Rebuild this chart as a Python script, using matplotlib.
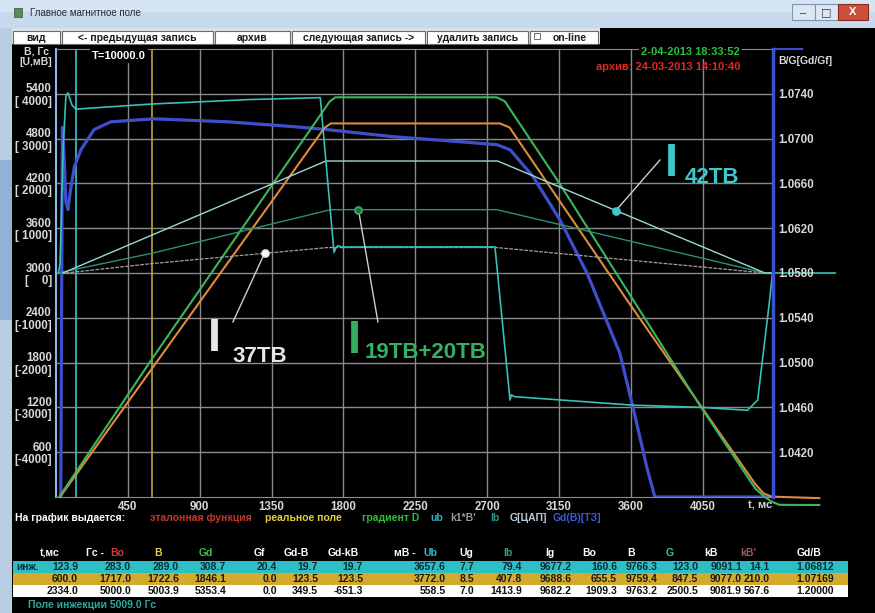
import numpy as np
import matplotlib.pyplot as plt
from matplotlib.patches import Rectangle

plt.rcParams['font.family'] = ['Liberation Sans', 'DejaVu Sans']

W, H = 875, 613

# ---- curves (t in ms) ----
# real field B, Gs (orange)
b_t   = [25, 600, 1680, 1720, 2780, 2840, 3575, 4044, 4380, 4430, 4480, 4780]
b_val = [0, 1717, 4940, 5003, 5003, 4950, 2640, 1200, 170, 50, 5, -15]
# gradient Gd, Gs (green)
gd_t   = [20, 600, 1715, 1750, 2760, 2810, 3150, 4040, 4380, 4430, 4480, 4530, 4780]
gd_val = [0, 1846, 5300, 5353, 5353, 5300, 4210, 1200, 110, 15, -60, -105, -107]
# Gd(B)[TZ], Gs (blue)
bl_t   = [30, 40, 50, 62, 75, 90, 115, 156, 238, 344, 612, 1075, 1488, 1700,
          2113, 2531, 2762, 2844, 2988, 3156, 3325, 3450, 3531, 3613, 3700, 3750, 4490]
bl_val = [0, 4950, 4600, 3950, 3850, 4100, 4420, 4650, 4920, 5025, 5065, 5025, 4960, 4920,
          4825, 4758, 4718, 4650, 4290, 3710, 3000, 2350, 1926, 1202, 396, 0, 0]
# ub, mV (cyan)
ub_t   = [15, 25, 45, 62, 75, 100, 124, 600, 1200, 1655, 1741, 1752, 1765, 1790, 2749,
          2843, 2852, 2870, 3612, 4050, 4330, 4394, 4469, 4487, 4880]
ub_val = [0, 200, 2800, 3950, 4020, 3750, 3658, 3772, 3870, 3915, 460, 560, 610, 580, 582,
          -2835, -2720, -2760, -2950, -3000, -3065, -2835, -600, 0, 0]
# coil group currents, mV
g_t,  g_val  = [43, 1690, 2765, 4440, 4490], [0, 2500, 2500, 0, 0]            # 42TB
ib_t, ib_val = [10, 600, 1720, 2760, 4440, 4490], [0, 440, 1414, 1414, 0, 0]  # 19TB+20TB
kb_t, kb_val = [60, 600, 1700, 2760, 4440, 4490], [0, 210, 568, 568, 0, 0]    # 37TB

cursor_t = [123.9, 600.0]
cursor_c = ['#2fb8c4', '#a89c3a']

x_ticks = [450, 900, 1350, 1800, 2250, 2700, 3150, 3600, 4050]
gs_ticks = [600, 1200, 1800, 2400, 3000, 3600, 4200, 4800, 5400]
u_ticks = [-4000, -3000, -2000, -1000, 0, 1000, 2000, 3000, 4000]
ratio_ticks = [1.0420, 1.0460, 1.0500, 1.0540, 1.0580, 1.0620, 1.0660, 1.0700, 1.0740]

# ---- table ----
hdr = ['t,мс', 'Bo', 'B', 'Gd', 'Gf', 'Gd-B', 'Gd-kB', 'Ub', 'Ug', 'Ib', 'Ig', 'Bo', 'B', 'G', 'kB', "kB'", 'Gd/B']
hdr_c = ['w', '#d03a3a', '#e8d040', '#3cc04a', 'w', 'w', 'w', '#30c0c8', 'w', '#2ea090', 'w', 'w', 'w', '#3cc0b0', 'w', '#a05858', 'w']
row1 = ['123.9', '283.0', '289.0', '308.7', '20.4', '19.7', '19.7', '3657.6', '7.7', '79.4', '9677.2', '160.6', '9766.3', '123.0', '9091.1', '14.1', '1.06812']
row2 = ['600.0', '1717.0', '1722.6', '1846.1', '0.0', '123.5', '123.5', '3772.0', '8.5', '407.8', '9688.6', '655.5', '9759.4', '847.5', '9077.0', '210.0', '1.07169']
row3 = ['2334.0', '5000.0', '5003.9', '5353.4', '0.0', '349.5', '-651.3', '558.5', '7.0', '1413.9', '9682.2', '1909.3', '9763.2', '2500.5', '9081.9', '567.6', '1.20000']
hdr_x = [50, 117, 158, 206, 259, 296, 343, 430, 466, 508, 550, 589, 631, 670, 711, 748, 809]
val_x = [78, 131, 179, 226, 277, 318, 363, 446, 474, 522, 572, 617, 658, 698, 742, 770, 834]

legend_items = [('эталонная функция', '#c0392b', 150), ('реальное поле', '#e6cf3a', 265),
                ('градиент D', '#2fbf3f', 362), ('ub', '#2ab0c8', 430), ("k1*B'", '#9a9a9a', 450),
                ('Ib', '#2a9a88', 490), ('G[ЦАП]', '#b8c8d8', 510), ('Gd(B)[ТЗ]', '#3b5bdb', 553)]

fig = plt.figure(figsize=(8.75, 6.13), dpi=100, facecolor='black')


def box(x0, y0, x1, y1, **kw):
    fig.add_artist(Rectangle((x0 / W, 1 - y1 / H), (x1 - x0) / W, (y1 - y0) / H,
                             transform=fig.transFigure, **kw))


def txt(x, y, s, **kw):
    kw.setdefault('va', 'center')
    return fig.text(x / W, 1 - y / H, s, **kw)


# window chrome
box(0, 0, 875, 28, fc='#c6d9ed', ec='none')
box(0, 0, 875, 12, fc='#d6e5f4', ec='none')
box(0, 28, 12, 613, fc='#b9cde3', ec='none')
box(0, 160, 12, 320, fc='#8fb2d6', ec='none')
box(14, 8, 22, 17, fc='#5a8a5a', ec='#335533', lw=0.5)
txt(30, 13, 'Главное магнитное поле', fontsize=7, color='#2a2a2a')
box(792, 4, 815, 20, fc='#dbe7f3', ec='#8096ae', lw=0.8)
box(815, 4, 838, 20, fc='#dbe7f3', ec='#8096ae', lw=0.8)
box(838, 4, 868, 20, fc='#c9503c', ec='#8a2a1a', lw=0.8)
txt(803, 13, '–', ha='center', fontsize=8, color='#333')
txt(826, 12, '□', ha='center', fontsize=8, color='#333', family=['DejaVu Sans'])
txt(853, 12, 'X', ha='center', fontsize=8, color='white', weight='bold')

box(12, 28, 600, 44, fc='#dfe3e8', ec='none')
buttons = [('вид', 13, 60), ('<- предыдущая запись', 62, 213), ('архив', 215, 290),
           ('следующая запись ->', 292, 425), ('удалить запись', 427, 528), ('on-line', 530, 598)]
for label, x0, x1 in buttons:
    box(x0, 31, x1, 44, fc='white', ec='#6a6a6a', lw=0.8)
    txt((x0 + x1) / 2 + (6 if label == 'on-line' else 0), 38, label, ha='center',
        fontsize=7.5, color='#1a1a1a', weight='bold')
box(534, 33, 540, 39, fc='white', ec='#555', lw=0.6)

# ---- plot ----
ax = fig.add_axes([56 / W, 1 - 497 / H, (773 - 56) / W, (497 - 49) / H])
ax.set_facecolor('black')
ax.set_xlim(0, 4490)
ax.set_ylim(0, 6000)
ax.grid(color='#8a8a8a', lw=1)
ax.set_axisbelow(True)
ax.set_xticks(x_ticks, labels=[str(v) for v in x_ticks])
ax.set_yticks(gs_ticks, labels=[f'{g}\n[{u:5d}]' for g, u in zip(gs_ticks, u_ticks)])
ax.tick_params(length=0, colors='#d8d8d8', labelsize=8.3, pad=3)
for lbl in ax.get_xticklabels() + ax.get_yticklabels():
    lbl.set_fontweight('bold')
for lbl in ax.get_yticklabels():
    lbl.set_linespacing(1.05)
for s in ['top', 'bottom']:
    ax.spines[s].set_color('#8a8a8a')
ax.spines['left'].set_color('#8ab8e8')
ax.spines['left'].set_linewidth(1.5)
ax.spines['right'].set_visible(False)

for t, c in zip(cursor_t, cursor_c):
    ax.axvline(t, color=c, lw=1.3)

ax.plot(bl_t, bl_val, color='#3f4fcc', lw=2.3)
ax.plot(b_t, b_val, color='#e08a3c', lw=1.5, clip_on=False)
ax.plot(gd_t, gd_val, color='#3cb55c', lw=1.5, clip_on=False)

# U (mV) curves share the same frame: 0 mV at 3000 Gs, 1000 mV per 600 Gs
ax_u = ax.twinx()
ax_u.set_ylim(-5000, 5000)
ax_u.axis('off')
ax_u.plot(kb_t, kb_val, color='#a0a0a0', lw=0.9, ls=(0, (3, 1)))
ax_u.plot(ib_t, ib_val, color='#2e8f78', lw=1.0)
ax_u.plot(g_t, g_val, color='#9ad8d8', lw=1.0)
ax_u.plot(ub_t, ub_val, color='#37c1b4', lw=1.2, clip_on=False)

# right ratio axis
ax_r = ax.twinx()
ax_r.set_ylim(1.038, 1.078)
ax_r.set_yticks(ratio_ticks, labels=[f'{r:.4f}' for r in ratio_ticks])
ax_r.tick_params(length=0, colors='#d8d8d8', labelsize=8.3, pad=4)
for lbl in ax_r.get_yticklabels():
    lbl.set_fontweight('bold')
for s in ['top', 'bottom', 'left']:
    ax_r.spines[s].set_visible(False)
ax_r.spines['right'].set_color('#3a50d0')
ax_r.spines['right'].set_linewidth(2.5)
ax_r.plot([1, 1.04], [1.0, 1.0], color='#3a50d0', lw=1.5, transform=ax_r.transAxes, clip_on=False)

# coil group annotations (positions in ms / mV)
notes = [(kb_t, kb_val, 1306, (1108, -1093), (950, -1740), (1108, -1987), '37TB', '#e6e6e6', 'white'),
         (ib_t, ib_val, 1894, (2016, -1093), (1826, -1785), (1935, -1897), '19TB+20TB', '#35b060', '#1e6a3a'),
         (g_t, g_val, 3506, (3782, 2522), (3816, 2165), (3938, 2008), '42TB', '#3cc8cc', '#3cc8cc')]
for ct, cv, tp, start, ipos, spos, name, col, face in notes:
    yp = np.interp(tp, ct, cv)
    ax_u.plot([start[0], tp], [start[1], yp], color='#cfcfcf', lw=1.0)
    ax_u.plot([tp], [yp], 'o', ms=5, mfc=face, mec=col, mew=1.3)
    ax_u.text(ipos[0], ipos[1], 'I', color=col, fontsize=34, weight='bold', va='baseline')
    ax_u.text(spos[0], spos[1], name, color=col, fontsize=16, weight='bold', va='baseline')

# labels around the plot
txt(36, 51, 'B, Гс', ha='center', fontsize=7.5, color='#d8d8d8', weight='bold')
txt(36, 62, '[U,мВ]', ha='center', fontsize=7.5, color='#d8d8d8', weight='bold')
txt(92, 56, 'T=10000.0', fontsize=8, color='white', weight='bold',
    bbox=dict(fc='black', ec='none', pad=1.5))
txt(740, 52, '2-04-2013 18:33:52', ha='right', fontsize=8, color='#30c040', weight='bold',
    bbox=dict(fc='black', ec='none', pad=1.5))
txt(740, 67, 'архив: 24-03-2013 14:10:40', ha='right', fontsize=8, color='#e02828', weight='bold')
txt(778, 61, 'B/G[Gd/Gf]', fontsize=7.5, color='#d8d8d8', weight='bold')
txt(748, 506, 't, мс', fontsize=8, color='#d8d8d8', weight='bold')

txt(15, 518, 'На график выдается:', fontsize=7.5, color='white', weight='bold')
for label, col, x in legend_items:
    txt(x, 518, label, fontsize=7.5, color=col, weight='bold')

# table
txt(95, 553, 'Гс -', ha='center', fontsize=7.5, color='white', weight='bold')
txt(405, 553, 'мВ -', ha='center', fontsize=7.5, color='white', weight='bold')
for h, c, x in zip(hdr, hdr_c, hdr_x):
    txt(x, 553, h, ha='center', fontsize=7.5, color=c, weight='bold')
rows = [(row1, '#2cc0c4', '#0c2a3a', 567), (row2, '#d4aa2c', '#1a1a1a', 579), (row3, 'white', '#111111', 591)]
for vals, bg, fg, y in rows:
    box(13, y - 6, 848, y + 6, fc=bg, ec='none')
    for v, x in zip(vals, val_x):
        txt(x, y, v, ha='right', fontsize=7.5, color=fg, weight='bold')
txt(16, 567, 'инж.', fontsize=7.3, color='#0c2a3a', weight='bold')
txt(28, 605, 'Поле инжекции 5009.0 Гс', fontsize=7.5, color='#2fa8a0', weight='bold')

fig.savefig('out.png', dpi=100, facecolor='black')
